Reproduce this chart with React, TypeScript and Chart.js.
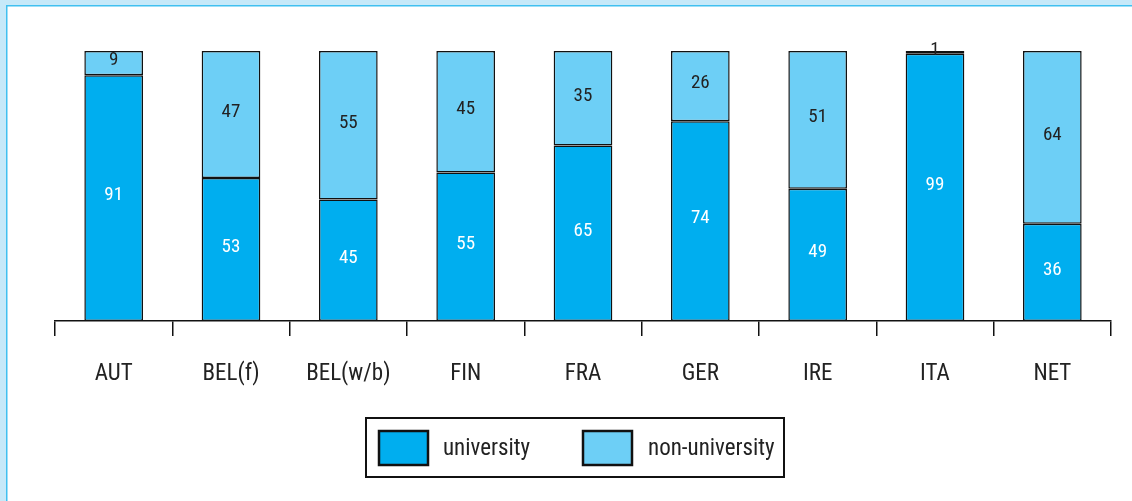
import React, { useEffect, useRef } from "react";
import { Chart, registerables } from "chart.js";

Chart.register(...registerables);

const categories = ["AUT", "BEL(f)", "BEL(w/b)", "FIN", "FRA", "GER", "IRE", "ITA", "NET"];
const universityValues = [91, 53, 45, 55, 65, 74, 49, 99, 36];
const nonUniversityValues = [9, 47, 55, 45, 35, 26, 51, 1, 64];
const seriesNames = ["university", "non-university"];
const seriesColors = ["#00aeef", "#6dcff6"];
const labelColors = ["#ffffff", "#222222"];

const FONT = "'Roboto Condensed', 'Open Sans', sans-serif";

const framePlugin = {
  id: "frame",
  beforeDraw(chart: any) {
    const { ctx, width, height } = chart;
    ctx.save();
    ctx.fillStyle = "#ffffff";
    ctx.fillRect(0, 0, width, height);
    ctx.fillStyle = "#c6e9f9";
    ctx.fillRect(0, 0, width, 5);
    ctx.fillRect(0, 0, 6, height);
    ctx.fillStyle = "#40c0f0";
    ctx.fillRect(6, 5, width - 6, 1.5);
    ctx.fillRect(6, 5, 1.5, height - 5);
    ctx.restore();
  },
};

const valueLabelPlugin = {
  id: "valueLabels",
  afterDatasetsDraw(chart: any) {
    const { ctx } = chart;
    ctx.save();
    ctx.font = `19px ${FONT}`;
    ctx.textAlign = "center";
    ctx.textBaseline = "middle";
    chart.data.datasets.forEach((ds: any, di: number) => {
      const meta = chart.getDatasetMeta(di);
      ctx.fillStyle = labelColors[di];
      meta.data.forEach((el: any, i: number) => {
        const y = (el.y + el.base) / 2 - 2.5;
        ctx.fillText(String(ds.data[i]), el.x, y);
      });
    });
    ctx.restore();
  },
};

const legendPlugin = {
  id: "boxLegend",
  afterDraw(chart: any) {
    const { ctx } = chart;
    ctx.save();
    ctx.strokeStyle = "#111111";
    ctx.lineWidth = 2;
    ctx.strokeRect(366, 418, 418, 59);
    const items = [
      { bx: 379, tx: 443 },
      { bx: 583, tx: 648 },
    ];
    ctx.font = `23px ${FONT}`;
    ctx.textBaseline = "middle";
    ctx.textAlign = "left";
    chart.data.datasets.forEach((ds: any, di: number) => {
      const it = items[di];
      ctx.fillStyle = ds.backgroundColor;
      ctx.fillRect(it.bx, 431, 49, 34);
      ctx.lineWidth = 2.5;
      ctx.strokeStyle = "#111111";
      ctx.strokeRect(it.bx, 431, 49, 34);
      ctx.fillStyle = "#222222";
      ctx.fillText(ds.label, it.tx, 449);
    });
    ctx.restore();
  },
};

export default function App() {
  const ref = useRef<HTMLCanvasElement>(null);
  useEffect(() => {
    if (!ref.current) return;
    const chart = new Chart(ref.current, {
      type: "bar",
      data: {
        labels: categories,
        datasets: [
          {
            label: seriesNames[0],
            data: universityValues,
            backgroundColor: seriesColors[0],
            borderColor: "#111111",
            borderWidth: 1.5,
            borderSkipped: false,
          },
          {
            label: seriesNames[1],
            data: nonUniversityValues,
            backgroundColor: seriesColors[1],
            borderColor: "#111111",
            borderWidth: 1.5,
            borderSkipped: false,
          },
        ],
      },
      options: {
        responsive: false,
        animation: false,
        layout: { padding: { top: 51, left: 55, right: 21, bottom: 0 } },
        datasets: { bar: { barPercentage: 0.5, categoryPercentage: 1 } },
        plugins: {
          legend: { display: false },
          tooltip: { enabled: false },
        },
        scales: {
          x: {
            stacked: true,
            offset: true,
            afterFit: (axis: any) => {
              axis.height = 180;
            },
            border: { display: true, color: "#111111", width: 1.5 },
            grid: {
              display: true,
              offset: true,
              drawOnChartArea: false,
              drawTicks: true,
              tickLength: 15,
              color: "#111111",
              lineWidth: 1.5,
            },
            ticks: {
              color: "#222222",
              padding: 24,
              maxRotation: 0,
              font: { family: FONT, size: 23 },
            },
          },
          y: {
            stacked: true,
            min: 0,
            max: 100,
            display: false,
          },
        },
      },
      plugins: [framePlugin, valueLabelPlugin, legendPlugin],
    });
    return () => chart.destroy();
  }, []);
  return (
    <canvas
      ref={ref}
      width={1132}
      height={501}
      style={{ position: "absolute", left: 0, top: 0, display: "block" }}
    />
  );
}
